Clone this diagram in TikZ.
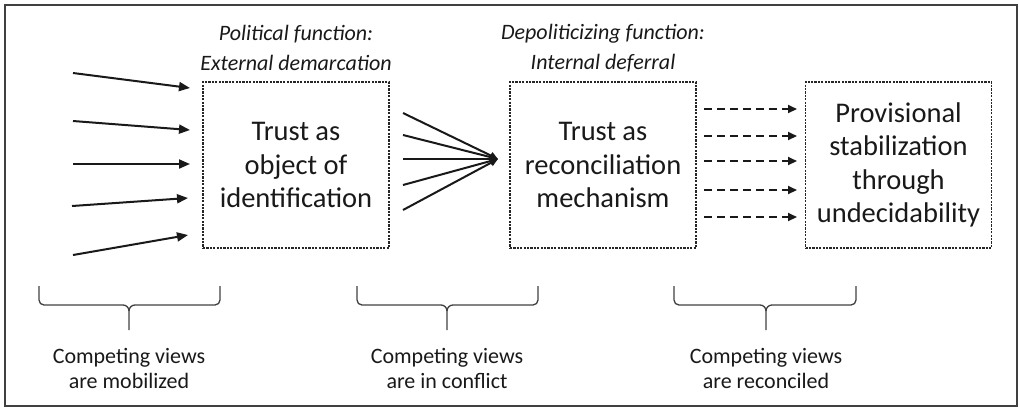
\documentclass[tikz,border=0pt]{standalone}
\usepackage{fontspec}
\setmainfont{Carlito}
\usetikzlibrary{arrows.meta}

\begin{document}
\begin{tikzpicture}[x=1pt,y=-1pt,
  stage/.style={draw=black!85,dash pattern=on 2.2pt off 1.2pt,line width=1.1pt,minimum width=186pt,minimum height=166pt,align=center,font=\fontsize{28.5}{33.5}\selectfont,text=black!90,inner sep=0pt},
  heading/.style={align=center,font=\fontsize{22}{30}\selectfont\itshape,text=black!90},
  caption/.style={align=center,font=\fontsize{22}{25}\selectfont,text=black!90},
  push/.style={line width=2pt,black!90,-{Triangle[length=11pt,width=9pt]}},
  meet/.style={line width=2pt,black!90,-{Triangle[length=8pt,width=7pt]}},
  settle/.style={line width=2pt,black!90,dash pattern=on 8pt off 5pt,-{Triangle[length=9pt,width=8pt]}},
  bracket/.style={line width=1.3pt,draw=black!75,line join=round}]
\useasboundingbox (0,0) rectangle (1019,408);
\draw[line width=1.8pt,black!75] (5,5) rectangle (1017,406);

\node[heading] (h1) at (296,48) {Political function:\\External demarcation};
\node[heading] (h2) at (603,48) {Depoliticizing function:\\Internal deferral};

\node[stage] (st1) at (296,165) {Trust as\\object of\\identification};
\node[stage] (st2) at (603,165) {Trust as\\reconciliation\\mechanism};
\node[stage] (st3) at (898.5,165) {Provisional\\stabilization\\through\\undecidability};

% views being mobilized
\coordinate (m0) at (73,73);   \coordinate (e0) at (190,88);
\coordinate (m1) at (73,121);  \coordinate (e1) at (190,130);
\coordinate (m2) at (73,164);  \coordinate (e2) at (190,164);
\coordinate (m3) at (72,206);  \coordinate (e3) at (188,198);
\coordinate (m4) at (73,255);  \coordinate (e4) at (188,235);
\draw[push] (m0)--(e0);
\draw[push] (m1)--(e1);
\draw[push] (m2)--(e2);
\draw[push] (m3)--(e3);
\draw[push] (m4)--(e4);

% views in conflict
\coordinate (hub) at (498,159);
\coordinate (c0) at (403,113);
\coordinate (c1) at (403,135);
\coordinate (c2) at (403,159);
\coordinate (c3) at (403,185);
\coordinate (c4) at (403,210);
\draw[meet] (c0)--(hub);
\draw[meet] (c1)--(hub);
\draw[meet] (c2)--(hub);
\draw[meet] (c3)--(hub);
\draw[meet] (c4)--(hub);

% views reconciled
\coordinate (r0) at (704,109);  \coordinate (f0) at (797,109);
\coordinate (r1) at (704,136);  \coordinate (f1) at (797,136);
\coordinate (r2) at (704,161);  \coordinate (f2) at (797,161);
\coordinate (r3) at (704,190);  \coordinate (f3) at (797,190);
\coordinate (r4) at (704,217);  \coordinate (f4) at (797,217);
\draw[settle] (r0)--(f0);
\draw[settle] (r1)--(f1);
\draw[settle] (r2)--(f2);
\draw[settle] (r3)--(f3);
\draw[settle] (r4)--(f4);

% brackets
\draw[bracket] (39,286)--(39,300) to[out=-90,in=180] (44,305)--(123,305) to[out=0,in=90] (129,311)--(129,330);
\draw[bracket] (129,311) to[out=90,in=180] (135,305)--(215,305) to[out=0,in=-90] (220,300)--(220,286);
\draw[bracket] (357,286)--(357,300) to[out=-90,in=180] (362,305)--(441,305) to[out=0,in=90] (447,311)--(447,330);
\draw[bracket] (447,311) to[out=90,in=180] (453,305)--(533,305) to[out=0,in=-90] (538,300)--(538,286);
\draw[bracket] (674,286)--(674,300) to[out=-90,in=180] (679,305)--(760,305) to[out=0,in=90] (766,311)--(766,330);
\draw[bracket] (766,311) to[out=90,in=180] (772,305)--(851,305) to[out=0,in=-90] (856,300)--(856,286);

\node[caption] (cap1) at (129,368) {Competing views\\are mobilized};
\node[caption] (cap2) at (447,368) {Competing views\\are in conflict};
\node[caption] (cap3) at (766,368) {Competing views\\are reconciled};
\end{tikzpicture}
\end{document}
